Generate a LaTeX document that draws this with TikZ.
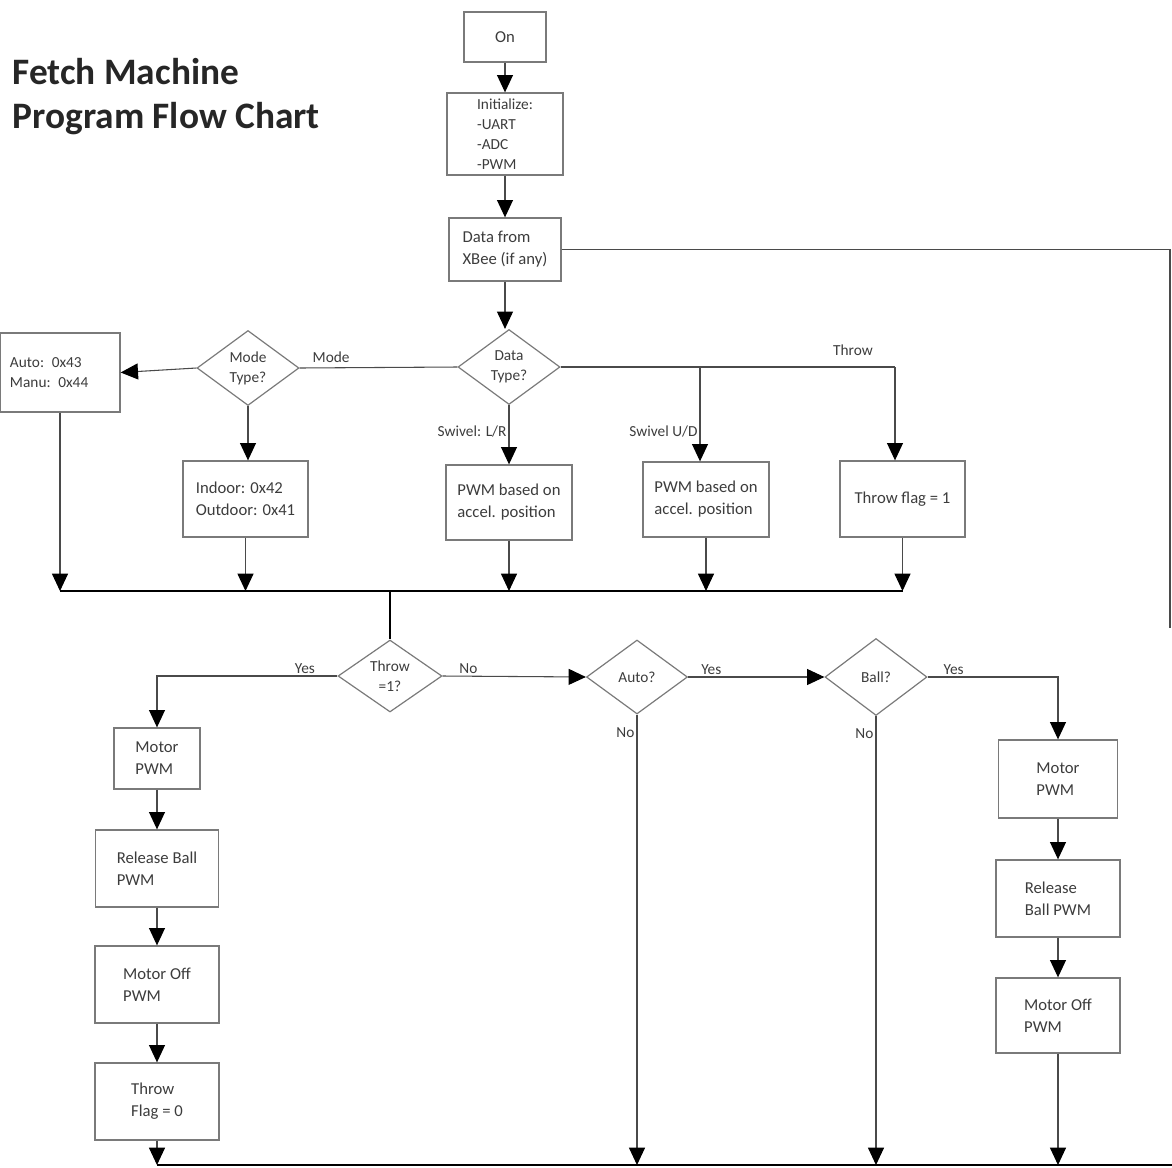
\documentclass[tikz,border=0pt]{standalone}
\usepackage{fontspec}
\setmainfont{Carlito}
\usetikzlibrary{shapes.geometric,arrows.meta}
\definecolor{boxc}{HTML}{7A7A7A}
\definecolor{txtc}{HTML}{3C3C3C}
\definecolor{linec}{HTML}{4A4A4A}
\begin{document}
\begin{tikzpicture}[x=0.75pt,y=-0.75pt,
  bx/.style 2 args={draw=boxc, line width=1pt, rectangle, minimum width=#1*0.75pt, minimum height=#2*0.75pt, inner sep=0pt, align=left, font=\fontsize{12.5}{16.5}\selectfont, text=txtc},
  dm/.style 2 args={draw=boxc, line width=0.9pt, diamond, aspect=1.4, minimum width=#1*0.75pt, minimum height=#2*0.75pt, inner sep=0pt, align=center, font=\fontsize{11.5}{15}\selectfont, text=txtc},
  ln/.style={draw=linec, line width=0.8pt},
  arr/.style={ln, -{Triangle[width=12pt,length=13pt,color=black]}},
  lbl/.style={font=\fontsize{11.5}{14}\selectfont, text=txtc, inner sep=1.5pt},
]
\useasboundingbox (0,0) rectangle (1172,1168);

% title
\node[anchor=west, align=left, font=\fontsize{28}{33}\selectfont\bfseries, text=black!85] (title) at (8,97) {Fetch Machine\\Program Flow Chart};

% top chain
\node[bx={82}{50}] (on) at (505,37) {On};
\node[bx={116}{82}, font=\fontsize{11.5}{15}\selectfont] (init) at (505,134) {Initialize:\\-UART\\-ADC\\-PWM};
\node[bx={112}{63}] (xbee) at (505,249.5) {Data from\\XBee (if any)};
\node[dm={102}{75}] (dtype) at (509,367) {Data\\Type?};
\node[dm={102}{75}] (mtype) at (248,368) {Mode\\Type?};
\node[bx={120}{79}, font=\fontsize{11.5}{14.5}\selectfont, text width=100*0.75pt] (auto) at (60,372.5) {Auto: 0x43\\Manu: 0x44};
\node[bx={125}{76}] (indoor) at (245.5,499) {Indoor: 0x42\\Outdoor: 0x41};
\node[bx={126}{75}] (pwm1) at (509,502.5) {PWM based on\\accel. position};
\node[bx={126}{75}] (pwm2) at (706,499.5) {PWM based on\\accel. position};
\node[bx={125}{76}] (tfone) at (902.5,499) {Throw flag = 1};

\draw[arr] (on) -- (init);
\draw[arr] (init) -- (xbee);
\draw[arr] (xbee.south) -- (xbee.south |- dtype.north);
\draw[ln] (dtype.west) -- (mtype.east) node[lbl, pos=0.8, above=2pt] (lmode) {Mode};
\draw[arr] (mtype.west) -- (auto.east);
\draw[arr] (mtype.south) -- (mtype.south |- indoor.north);
\draw[arr] (dtype.south) -- (dtype.south |- pwm1.north) node[lbl, pos=0.45, left] (llr) {Swivel: L/R};
\coordinate (jud) at (700,367);
\coordinate (jth) at (895,367);
\draw[ln] (dtype.east) -- (jth);
\draw[arr] (jud) -- (jud |- pwm2.north) node[lbl, pos=0.68, left] (lud) {Swivel U/D};
\draw[arr] (jth) -- (jth |- tfone.north);
\node[lbl] (lthrow) at (853,350) {Throw};

% bus
\coordinate (bus) at (0,591);
\draw[line width=0.8pt, black] (auto.south |- bus) -- (tfone.south |- bus);
\draw[arr] (auto.south) -- (auto.south |- bus);
\draw[arr] (indoor.south) -- (indoor.south |- bus);
\draw[arr] (pwm1.south) -- (pwm1.south |- bus);
\draw[arr] (pwm2.south) -- (pwm2.south |- bus);
\draw[arr] (tfone.south) -- (tfone.south |- bus);

% right loop
\coordinate (rtop) at (1170,249.5);
\coordinate (rbot) at (1170,628);
\draw[ln] (xbee.east) -- (rtop) -- (rbot);

% lower part
\node[dm={104}{72}] (tq) at (390,676) {Throw\\=1?};
\coordinate (bt) at (390,591);
\draw[line width=0.8pt, black] (bt) -- (tq.north);

\node[bx={86}{61}] (lm) at (157,758.5) {Motor\\PWM};
\node[bx={123}{77}] (lrb) at (157,868.5) {Release Ball\\PWM};
\node[bx={124}{77}] (lmo) at (157,984.5) {Motor Off\\PWM};
\node[bx={124}{77}] (ltf) at (157,1101.5) {Throw\\Flag = 0};

\draw[arr] (tq.west) -- (tq.west -| lm.north) node[lbl, pos=0.18, above] (lyes) {Yes} -- (lm.north);
\draw[arr] (lm) -- (lrb);
\draw[arr] (lrb) -- (lmo);
\draw[arr] (lmo) -- (ltf);

\coordinate (bot) at (0,1165);
\coordinate (botR) at (1172,1165);
\draw[arr] (ltf.south) -- (ltf.south |- bot);
\draw[line width=0.8pt, black] (ltf.south |- bot) -- (botR);

\node[dm={101}{74}] (autod) at (637,677) {Auto?};
\node[dm={102}{77}] (ball) at (876,677) {Ball?};
\draw[arr] (tq.east) -- (autod.west) node[lbl, pos=0.18, above] (lno) {No};
\draw[arr] (autod.east) -- (ball.west) node[lbl, pos=0.17, above] (ayes) {Yes};
\draw[arr] (autod.south) -- (autod.south |- bot) node[lbl, pos=0.04, left] (ano) {No};
\draw[arr] (ball.south) -- (ball.south |- bot) node[lbl, pos=0.04, left] (bno) {No};

\node[bx={119}{78}] (rm) at (1058,779) {Motor\\PWM};
\node[bx={124}{77}] (rrb) at (1058,898.5) {Release\\Ball PWM};
\node[bx={124}{75}] (rmo) at (1058,1015.5) {Motor Off\\PWM};

\draw[arr] (ball.east) -- (ball.east -| rm.north) node[lbl, pos=0.2, above] (byes) {Yes} -- (rm.north);
\draw[arr] (rm) -- (rrb);
\draw[arr] (rrb) -- (rmo);
\draw[arr] (rmo.south) -- (rmo.south |- bot);
\end{tikzpicture}
\end{document}
